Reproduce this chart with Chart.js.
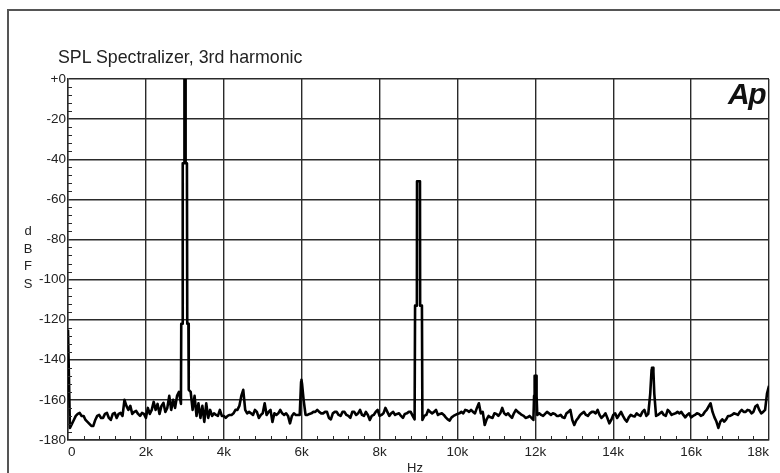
<!DOCTYPE html>
<html><head><meta charset="utf-8">
<script src="https://cdn.jsdelivr.net/npm/chart.js@4.4.1/dist/chart.umd.min.js"></script>
<style>
html,body{margin:0;padding:0;background:#fff;}
#wrap{position:relative;width:780px;height:473px;overflow:hidden;background:#fff;}
#c{position:absolute;left:0;top:0;}
.t{position:absolute;font-family:"Liberation Sans",Arial,sans-serif;color:#222;white-space:nowrap;}
</style></head><body>
<div id="wrap">
<canvas id="c" width="780" height="473"></canvas>
<div class="t" id="title" style="left:58px;top:49px;font-size:17.8px;line-height:1;">SPL Spectralizer, 3rd harmonic</div>
<div class="t" id="ylab" style="left:18px;top:222px;width:20px;text-align:center;font-size:13px;line-height:17.5px;white-space:normal;">d<br>B<br>F<br>S</div>
<div class="t" id="xlab" style="left:403px;top:461px;width:24px;text-align:center;font-size:13px;line-height:1;">Hz</div>
<div class="t" id="logo" style="right:15px;top:79px;font-size:30px;line-height:1;font-weight:bold;font-style:italic;color:#111;letter-spacing:-1.5px;">Ap</div>
</div>
<script>
// ---- data ----
const binHz = 50; // noise-floor bins: index i -> i*50 Hz, 0..18000
const floorDb = [
 -125,-174,-172,-170,-168,-167,-166.5,-168,-168,-170,-171,-172,-173,-173,-170,-168,-167.5,-169,-169,-167,
 -166.5,-169,-170,-167,-166.5,-169,-167,-166.5,-168,-160,-163,-165,-163,-167,-166,-165.5,-167,-168,-166.5,-167,
 -169,-164,-167,-165,-161,-165,-162,-167,-163,-161.5,-166,-164,-158,-165,-160,-164,-158,-156,-162,-150,
 -150,-150,-155,-156,-165,-158,-168,-161.7,-169,-163,-171,-161.7,-169,-165,-168,-166.7,-167.5,-168,-165,-168,
 -168,-169,-168,-167.5,-167.5,-166.7,-165,-165,-163,-158,-155,-165,-166.7,-166,-166.7,-167.5,-165,-166,-169,-167.5,
 -166.7,-161.7,-167.5,-166,-165,-171,-166.7,-167.5,-166.7,-165,-166.7,-167.5,-166.7,-168,-171.7,-168,-166.7,-167.5,-167.5,-167.5,
 -150,-160,-167.5,-167.5,-167,-166.7,-166,-166,-165,-166,-166.7,-166.7,-166,-166,-169,-169.7,-166.7,-166,-166,-167.5,
 -168,-166,-166,-167.5,-168,-169,-166,-166,-167.5,-166.7,-165,-167.5,-168,-166,-167.5,-170,-168,-167.5,-166,-165,
 -168,-167.5,-166.7,-164,-166,-168,-166.7,-166,-167.5,-167,-166.7,-168,-169,-167,-166.7,-166,-166,-168,-169.7,-150,
 -51,-150,-170,-168,-167.5,-165,-166,-166.7,-166,-165,-167.5,-167,-166.7,-167.5,-168.7,-169.7,-170.3,-168.7,-168,-167.5,
 -167,-166.7,-166,-166.7,-165,-165.3,-166,-165,-166,-166.7,-164,-161.7,-166.7,-166,-172.5,-169.7,-168,-168.7,-169,-166.7,
 -167,-168,-166.7,-164,-166.7,-167.5,-166.7,-168,-169,-166.7,-165,-166,-166.7,-167.5,-168,-169,-168.7,-168,-169,-170,
 -148,-167.5,-166.7,-167.5,-168,-167,-166,-166.7,-167.5,-166.7,-167,-168,-168,-167.5,-168.7,-169,-166.7,-166,-165,-170,
 -172.5,-170.3,-169,-167.5,-166.7,-166,-167.5,-168,-166.7,-166,-166,-166.7,-165,-167.5,-169,-168,-166.7,-169,-171.7,-170,
 -167.5,-166.7,-169,-167.5,-166,-168,-169.7,-170.8,-168.7,-167.5,-168,-168.3,-166.7,-167.5,-168,-166,-165,-168,-167,-157,
 -144,-150,-168,-167.5,-166.7,-166,-167.5,-168,-165,-166,-167.5,-167,-166.7,-166,-166.7,-166,-167.5,-168.7,-167.5,-166.7,
 -168.7,-168,-167.5,-166.7,-167,-168,-167.5,-166,-165,-163.3,-161.7,-166,-168.7,-170.8,-174,-170.8,-169.7,-170.8,-169.7,-168,
 -168,-167.5,-166.7,-167,-167.5,-166,-165,-166,-166,-165,-165.3,-166.7,-166,-163.3,-162.5,-165,-166.7,-166,-165,-156.7,
 -153
];
// spectral lines (fundamental and harmonics), finer frequency points
const peak3kHz  = [2908, 2938, 2946, 2980, 2990, 3010, 3020, 3054, 3062, 3092];
const peak3kDb  = [-122, -122, -42, -42, 0, 0, -42, -42, -122, -122];
const peak6kHz  = [5985, 5995, 6010];
const peak6kDb  = [-151, -150, -152];
const peak9kHz  = [8912, 8958, 8962, 9038, 9042, 9088];
const peak9kDb  = [-113, -113, -51, -51, -113, -113];
const peak12kHz = [11968, 11982, 12018, 12032];
const peak12kDb = [-158, -148, -148, -158];
const peak15kHz = [14950, 14965, 14985, 14995, 15022, 15032, 15055, 15070];
const peak15kDb = [-157, -157, -145, -144, -144, -146, -157, -157];
const xTickValues = [0, 2000, 4000, 6000, 8000, 10000, 12000, 14000, 16000, 18000];
const xTickLabels = ['0', '2k', '4k', '6k', '8k', '10k', '12k', '14k', '16k', '18k'];

// ---- build series ----
const peaks = [[peak3kHz, peak3kDb], [peak6kHz, peak6kDb], [peak9kHz, peak9kDb], [peak12kHz, peak12kDb], [peak15kHz, peak15kDb]];
const pts = [];
floorDb.forEach((v, i) => {
  const f = i * binHz;
  const inside = peaks.some(([h]) => f >= h[0] && f <= h[h.length - 1]);
  if (!inside) pts.push({x: f, y: v});
});
peaks.forEach(([h, d]) => h.forEach((f, i) => pts.push({x: f, y: d[i]})));
pts.sort((a, b) => a.x - b.x);

const GRID = '#2a2a2a';
const frameAndMinor = {
  id: 'frameAndMinor',
  beforeDraw(chart) {
    const c = chart.ctx;
    c.save();
    c.strokeStyle = '#555';
    c.lineWidth = 2;
    c.beginPath();
    c.moveTo(8, 480); c.lineTo(8, 10); c.lineTo(790, 10);
    c.stroke();
    c.restore();
  },
  afterDraw(chart) {
    const c = chart.ctx, xs = chart.scales.x, ys = chart.scales.y, a = chart.chartArea;
    c.save();
    c.strokeStyle = GRID;
    c.lineWidth = 1;
    c.beginPath();
    for (let f = 400; f < 18000; f += 400) {
      if (f % 2000 === 0) continue;
      const px = Math.round(xs.getPixelForValue(f)) + 0.5;
      c.moveTo(px, a.bottom); c.lineTo(px, a.bottom - 4);
    }
    for (let d = -176; d < 0; d += 4) {
      if (d % 20 === 0) continue;
      const py = Math.round(ys.getPixelForValue(d)) + 0.5;
      c.moveTo(a.left, py); c.lineTo(a.left + 4, py);
    }
    c.stroke();
    c.restore();
  }
};

const tickFont = {family: '"Liberation Sans", Arial, sans-serif', size: 13.5};
new Chart(document.getElementById('c'), {
  type: 'line',
  data: {datasets: [{
    data: pts, parsing: false, borderColor: '#000', borderWidth: 2.6,
    pointRadius: 0, tension: 0, fill: false, borderJoinStyle: 'round'
  }]},
  options: {
    responsive: false, animation: false, devicePixelRatio: 1,
    layout: {padding: {left: 0, right: 11, top: 79, bottom: 0}},
    plugins: {legend: {display: false}, tooltip: {enabled: false}, title: {display: false}},
    scales: {
      x: {
        type: 'linear', min: 0, max: 18000,
        afterFit(s) { s.height = 33; },
        afterBuildTicks(s) { s.ticks = xTickValues.map(v => ({value: v})); },
        grid: {color: GRID, lineWidth: 1.4, drawTicks: false},
        border: {color: GRID, width: 1.4},
        ticks: {
          align: 'inner', padding: 4, color: '#222', font: tickFont, maxRotation: 0, autoSkip: false,
          callback: (v) => { const i = xTickValues.indexOf(v); return i >= 0 ? xTickLabels[i] : ''; }
        }
      },
      y: {
        min: -180, max: 0,
        afterFit(s) { s.width = 68; },
        grid: {color: GRID, lineWidth: 1.4, drawTicks: false},
        border: {color: GRID, width: 1.4},
        ticks: {
          stepSize: 20, padding: 2, color: '#222', font: tickFont,
          callback: (v) => v === 0 ? '+0' : String(v)
        }
      }
    }
  },
  plugins: [frameAndMinor]
});
</script>
</body></html>
